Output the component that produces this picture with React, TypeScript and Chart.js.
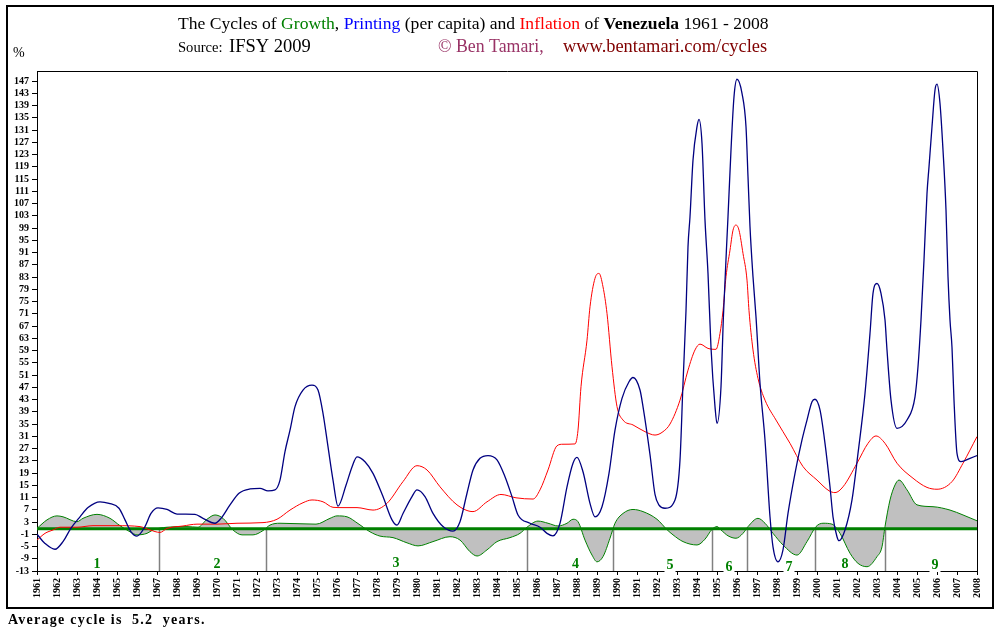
import { useEffect, useRef } from "react";
import { Chart, registerables } from "chart.js";

Chart.register(...registerables);

// ---- axis ticks ----
const yearTicks = [
  1961, 1962, 1963, 1964, 1965, 1966, 1967, 1968, 1969, 1970, 1971, 1972,
  1973, 1974, 1975, 1976, 1977, 1978, 1979, 1980, 1981, 1982, 1983, 1984,
  1985, 1986, 1987, 1988, 1989, 1990, 1991, 1992, 1993, 1994, 1995, 1996,
  1997, 1998, 1999, 2000, 2001, 2002, 2003, 2004, 2005, 2006, 2007, 2008,
];
const percentTicks = [
  -13, -9, -5, -1, 3, 7, 11, 15, 19, 23, 27, 31, 35, 39, 43, 47, 51, 55, 59,
  63, 67, 71, 75, 79, 83, 87, 91, 95, 99, 103, 107, 111, 115, 119, 123, 127,
  131, 135, 139, 143, 147,
];

// ---- Printing (money per capita), % ----
const printingYears = [
  1961.0, 1961.4, 1961.9, 1962.3, 1962.7, 1963.15, 1963.55, 1964.15, 1964.6,
  1965.1, 1965.4, 1965.7, 1966.0, 1966.4, 1966.7, 1967.05, 1967.5, 1968.0,
  1968.9, 1969.3, 1969.9, 1970.2, 1970.65, 1971.1, 1971.65, 1972.15, 1972.55,
  1972.9, 1973.15, 1973.4, 1973.65, 1973.9, 1974.3, 1974.75, 1975.05, 1975.3,
  1975.55, 1975.8, 1976.05, 1976.45, 1976.75, 1977.0, 1977.4, 1977.8, 1978.3,
  1978.75, 1979.0, 1979.3, 1979.75, 1980.0, 1980.4, 1980.8, 1981.3, 1981.8,
  1982.15, 1982.5, 1982.8, 1983.15, 1983.55, 1984.0, 1984.4, 1984.75, 1985.05,
  1985.65, 1986.15, 1986.5, 1986.8, 1987.15, 1987.5, 1987.8, 1988.0, 1988.3,
  1988.65, 1988.9, 1989.25, 1989.6, 1989.9, 1990.25, 1990.6, 1990.8, 1991.15,
  1991.3, 1991.65, 1991.9, 1992.1, 1992.4, 1992.9, 1993.15, 1993.3, 1993.45,
  1993.55, 1993.65, 1993.8, 1994.0, 1994.1, 1994.25, 1994.4, 1994.55, 1994.7,
  1994.9, 1995.0, 1995.2, 1995.32, 1995.55, 1995.7, 1995.85, 1996.0, 1996.25,
  1996.45, 1996.55, 1996.65, 1996.8, 1996.95, 1997.15, 1997.4, 1997.65, 1997.8,
  1998.05, 1998.3, 1998.55, 1998.9, 1999.25, 1999.5, 1999.75, 1999.9, 2000.15,
  2000.4, 2000.65, 2000.8, 2001.0, 2001.1, 2001.4, 2001.75, 2002.05, 2002.4,
  2002.65, 2002.8, 2003.0, 2003.2, 2003.4, 2003.5, 2003.7, 2004.0, 2004.5,
  2004.9, 2005.05, 2005.2, 2005.35, 2005.5, 2005.6, 2005.75, 2005.9, 2006.0,
  2006.15, 2006.3, 2006.45, 2006.55, 2006.65, 2006.75, 2006.85, 2007.0, 2007.2,
  2007.65, 2008.0,
];
const printingValues = [
  -1, -4, -5.9, -3.4, 1, 4.7, 7.7, 9.6, 9.1,
  7.5, 3.7, -0.2, -1.6, 1.5, 5.8, 7.6, 7.1, 5.6,
  5.5, 4.2, 2.6, 4.2, 8.6, 12.4, 13.8, 14, 13.2,
  13.5, 16.7, 26, 33, 40.7, 46.1, 47.7, 46.1, 38.5,
  27.6, 16.7, 8.2, 15, 21, 24.3, 22.7, 18.9, 11.3,
  3.7, 2, 5.8, 11.3, 13.5, 11.3, 5.8, 1.5, 0,
  3.1, 12.4, 20, 23.8, 24.7, 23.3, 17.8, 11.3, 5.3,
  2.6, 1.3, -0.7, -1.5, 2.6, 14.5, 22.2, 24.1, 19.4,
  9.1, 4.7, 8, 18.9, 33, 43.4, 48.8, 50.2, 46.1,
  40.7, 25, 12, 8.5, 7.5, 10.2, 23.2, 48.3, 72,
  92.9, 102.7, 121.2, 132.1, 134.5, 126.7, 101.6, 84.2, 60,
  40.7, 35.2, 47.2, 70, 102.7, 124.5, 141.9, 147.6, 143,
  132.1, 115.8, 99.4, 83.1, 70, 48.3, 29.8, 4.7, -5.1,
  -10, -6.1, 5.8, 18.9, 29.8, 36.3, 42.3, 43.1, 39.6,
  28.7, 14.5, 4.7, -1.8, -3.1, 0.4, 10.2, 25.4, 45,
  64.6, 77.7, 80.9, 77.7, 69, 59.2, 42.8, 33.6, 36.3,
  43.9, 53.7, 69, 88.6, 110.3, 119, 132.1, 144.1, 146,
  139.7, 124.5, 104.9, 83.1, 69, 60, 42.8, 25.4, 22.7,
  23.8, 24.7,
];

// ---- Inflation, % ----
const inflationYears = [
  1961.0, 1961.4, 1961.8, 1962.15, 1963.0, 1963.8, 1965.0, 1966.15, 1966.65,
  1967.15, 1967.5, 1968.3, 1969.0, 1970.0, 1971.0, 1972.3, 1973.0, 1973.65,
  1974.3, 1974.75, 1975.3, 1975.8, 1976.3, 1977.0, 1977.8, 1978.5, 1979.3,
  1980.0, 1980.5, 1981.15, 1982.0, 1982.8, 1983.5, 1984.2, 1984.95, 1985.8,
  1986.15, 1986.55, 1987.0, 1987.3, 1987.9, 1988.05, 1988.2, 1988.5, 1988.65,
  1988.9, 1989.1, 1989.3, 1989.5, 1989.75, 1990.0, 1990.3, 1990.8, 1991.4,
  1991.9, 1992.3, 1992.65, 1993.15, 1993.55, 1993.9, 1994.15, 1994.55, 1994.95,
  1995.15, 1995.3, 1995.45, 1995.65, 1995.8, 1995.95, 1996.1, 1996.3, 1996.5,
  1996.6, 1996.8, 1997.05, 1997.4, 1997.95, 1998.65, 1999.3, 2000.0, 2000.6,
  2000.9, 2001.3, 2002.0, 2002.55, 2002.95, 2003.4, 2004.0, 2004.8, 2005.5,
  2006.0, 2006.75, 2007.3, 2008.0,
];
const inflationValues = [
  -2.9, -0.7, 0.4, 1.3, 1.3, 1.8, 1.8, 1.5, 0.4,
  -0.4, 0.9, 1.7, 2.3, 2.3, 2.6, 2.8, 3.9, 6.9,
  9.3, 10.2, 9.6, 7.8, 7.7, 7.7, 6.9, 9.1, 16.2,
  21.4, 20, 14.5, 8.6, 6.4, 9.6, 12, 10.9, 10.5,
  13.5, 20, 27.9, 28.4, 28.5, 33, 47.2, 62.4, 73.3,
  82.6, 84.2, 79.8, 71.1, 53.7, 40.7, 36.3, 34.7, 32.5,
  31.4, 32.5, 35, 42.8, 52.6, 59.2, 61.1, 59.7, 59.4,
  64.6, 72, 83.1, 91.8, 98.3, 100, 98.3, 90.7, 82,
  72, 59.2, 49.9, 42.8, 36.3, 28.7, 21.1, 16.7, 13.2,
  12.6, 14.5, 22.2, 28.7, 31.1, 28.7, 22.2, 17.3, 14.3,
  13.7, 16.2, 22.2, 30.9,
];

// ---- Growth, % ----
const growthYears = [
  1961.0, 1961.5, 1962.0, 1962.3, 1963.0, 1963.3, 1964.0, 1964.65, 1965.15,
  1965.65, 1966.0, 1966.5, 1966.8, 1967.5, 1968.5, 1969.05, 1969.5, 1969.9,
  1970.3, 1970.8, 1971.25, 1971.8, 1972.3, 1972.65, 1973.15, 1974.95, 1975.65,
  1976.0, 1976.5, 1977.05, 1977.65, 1978.15, 1978.8, 1979.5, 1980.05, 1980.8,
  1981.65, 1982.15, 1982.65, 1983.0, 1983.5, 1984.0, 1984.65, 1985.15, 1985.5,
  1986.05, 1986.55, 1987.05, 1987.5, 1987.8, 1988.05, 1988.4, 1988.75, 1989.0,
  1989.3, 1989.65, 1989.9, 1990.3, 1990.8, 1991.3, 1992.0, 1992.5, 1992.8,
  1993.3, 1994.0, 1994.4, 1994.75, 1995.0, 1995.2, 1995.55, 1995.95, 1996.3,
  1996.55, 1997.05, 1997.4, 1997.8, 1998.3, 1999.0, 1999.5, 1999.95, 2000.3,
  2000.75, 2001.15, 2001.65, 2002.05, 2002.5, 2003.0, 2003.25, 2003.4, 2003.65,
  2003.9, 2004.1, 2004.5, 2005.0, 2005.8, 2006.65, 2007.3, 2008.0,
];
const growthValues = [
  0.9, 3.7, 5.0, 4.7, 3.1, 4.2, 5.5, 4.2, 1.8,
  -0.2, -1.2, -0.7, 0.4, 1.3, 1.5, 1.3, 3.9, 5.3,
  4.2, 0.4, -1.2, -1.2, 0.2, 2.0, 2.6, 2.3, 4.2,
  5.0, 4.7, 2.5, -0.2, -1.6, -2.1, -3.8, -4.8, -3.4,
  -1.8, -2.9, -6.7, -8.1, -6.1, -3.4, -2.1, -0.7, 1.3,
  3.3, 2.6, 1.7, 2.6, 3.9, 3.1, -2.9, -7.8, -10,
  -8.3, -2.3, 2.6, 5.8, 7.1, 6.4, 3.9, 0.5, -1.2,
  -3.4, -4.5, -2.6, 0.6, 1.5, 0.4, -1.5, -2.3, -0.7,
  1.5, 4.2, 2.6, -0.7, -4.5, -7.8, -3.4, 1.5, 2.6,
  2.3, -0.7, -7.2, -10.5, -11.6, -8.3, -5.1, 1.5, 10.2,
  15.1, 16.7, 13.5, 8.6, 8.0, 6.9, 5.3, 3.4,
];
const growthBaseline = 0.8;

// ---- growth cycles ----
const cycleBounds = [1967.1, 1972.45, 1985.5, 1989.8, 1994.75, 1996.5, 1999.9, 2003.4];
const cycleNames = ["1", "2", "3", "4", "5", "6", "7", "8", "9"];
const cycleCentres = [1964.0, 1970.0, 1978.95, 1987.93, 1992.65, 1995.6, 1998.6, 2001.4, 2005.9];
const averageCycle = "5.2";

const SERIF = "'Liberation Serif', 'Times New Roman', serif";

const toPoints = (xs: number[], ys: number[]) => xs.map((x, i) => ({ x, y: ys[i] }));

const titleParts: [string, string, boolean][] = [
  ["The Cycles of ", "#000000", false],
  ["Growth", "#008000", false],
  [", ", "#000000", false],
  ["Printing", "#0000ff", false],
  [" (per capita) and ", "#000000", false],
  ["Inflation", "#ff0000", false],
  [" of ", "#000000", false],
  ["Venezuela", "#000000", true],
  [" 1961 - 2008", "#000000", false],
];

const decorPlugin = {
  id: "decor",
  beforeDatasetsDraw(chart: any) {
    const { ctx, chartArea, scales } = chart;
    const xs = scales.x;
    const ys = scales.y;
    ctx.save();
    ctx.strokeStyle = "#808080";
    ctx.lineWidth = 1.5;
    const yTop = ys.getPixelForValue(growthBaseline);
    cycleBounds.forEach((yr) => {
      const px = Math.round(xs.getPixelForValue(yr)) + 0.5;
      ctx.beginPath();
      ctx.moveTo(px, yTop);
      ctx.lineTo(px, chartArea.bottom);
      ctx.stroke();
    });
    ctx.restore();
  },
  afterDraw(chart: any) {
    const { ctx, chartArea, scales } = chart;
    const xs = scales.x;
    ctx.save();

    // plot frame (top and right sides)
    ctx.strokeStyle = "#000";
    ctx.lineWidth = 1;
    ctx.beginPath();
    ctx.moveTo(chartArea.left, chartArea.top + 0.5);
    ctx.lineTo(chartArea.right + 0.5, chartArea.top + 0.5);
    ctx.lineTo(chartArea.right + 0.5, chartArea.bottom);
    ctx.stroke();

    // outer border
    ctx.lineWidth = 2;
    ctx.strokeRect(7, 6, 986, 602);

    // cycle numbers
    const labelBase = [568, 568, 567, 568, 569, 571, 571, 568, 569];
    ctx.font = `bold 14px ${SERIF}`;
    ctx.textAlign = "center";
    ctx.textBaseline = "alphabetic";
    cycleNames.forEach((name, i) => {
      const px = xs.getPixelForValue(cycleCentres[i]);
      const w = ctx.measureText(name).width;
      ctx.fillStyle = "#fff";
      ctx.fillRect(px - w / 2 - 2, labelBase[i] - 10, w + 4, 13);
      ctx.fillStyle = "#008000";
      ctx.fillText(name, px, labelBase[i]);
    });

    // title line
    ctx.textAlign = "left";
    let x = 178;
    titleParts.forEach(([t, c, b]) => {
      ctx.font = `${b ? "bold " : ""}17.6px ${SERIF}`;
      ctx.fillStyle = c;
      ctx.fillText(t, x, 29);
      x += ctx.measureText(t).width;
    });

    // source line
    ctx.fillStyle = "#000";
    ctx.font = `14.6px ${SERIF}`;
    ctx.fillText("Source:", 178, 52);
    ctx.font = `18.5px ${SERIF}`;
    ctx.fillText("IFSY 2009", 229, 52);
    ctx.fillStyle = "#993366";
    ctx.font = `17.8px ${SERIF}`;
    ctx.fillText("\u00a9 Ben Tamari,", 438, 52);
    ctx.fillStyle = "#800000";
    ctx.font = `18.4px ${SERIF}`;
    ctx.fillText("www.bentamari.com/cycles", 563, 52);

    // unit
    ctx.fillStyle = "#000";
    ctx.font = `14px ${SERIF}`;
    ctx.fillText("%", 13, 57);

    // footnote
    ctx.font = `bold 14px ${SERIF}`;
    (ctx as any).letterSpacing = "1.25px";
    ctx.fillText(`Average cycle is  ${averageCycle}  years.`, 8, 624);
    ctx.restore();
  },
};

export default function App() {
  const ref = useRef<HTMLCanvasElement>(null);

  useEffect(() => {
    const tickFont = { family: SERIF, size: 10, weight: "bold" as const };
    const chart = new Chart(ref.current as HTMLCanvasElement, {
      type: "line",
      data: {
        datasets: [
          {
            label: "Growth",
            data: toPoints(growthYears, growthValues),
            borderColor: "#008000",
            borderWidth: 1,
            backgroundColor: "#c0c0c0",
            fill: { value: growthBaseline },
            pointRadius: 0,
            cubicInterpolationMode: "monotone",
            order: 4,
          },
          {
            label: "Baseline",
            data: [
              { x: yearTicks[0], y: growthBaseline },
              { x: yearTicks[yearTicks.length - 1], y: growthBaseline },
            ],
            borderColor: "#008000",
            borderWidth: 3,
            pointRadius: 0,
            fill: false,
            order: 3,
          },
          {
            label: "Inflation",
            data: toPoints(inflationYears, inflationValues),
            borderColor: "#ff0000",
            borderWidth: 1,
            pointRadius: 0,
            fill: false,
            cubicInterpolationMode: "monotone",
            order: 2,
          },
          {
            label: "Printing",
            data: toPoints(printingYears, printingValues),
            borderColor: "#000080",
            borderWidth: 1.3,
            pointRadius: 0,
            fill: false,
            cubicInterpolationMode: "monotone",
            order: 1,
          },
        ],
      },
      options: {
        responsive: false,
        animation: false,
        devicePixelRatio: 1,
        layout: { padding: { left: 0, top: 71, right: 23, bottom: 0 } },
        plugins: {
          legend: { display: false },
          title: { display: false },
          tooltip: { enabled: false },
        },
        scales: {
          x: {
            type: "linear",
            min: yearTicks[0],
            max: yearTicks[yearTicks.length - 1],
            afterBuildTicks: (s: any) => {
              s.ticks = yearTicks.map((v) => ({ value: v }));
            },
            afterFit: (s: any) => {
              s.height = 62;
            },
            ticks: {
              autoSkip: false,
              maxRotation: 90,
              minRotation: 90,
              padding: 3,
              color: "#000",
              font: tickFont,
              callback: (v: any) => String(v),
            },
            grid: { drawOnChartArea: false, tickLength: 4, color: "#000" },
            border: { color: "#000", width: 1 },
          },
          y: {
            type: "linear",
            min: -13,
            max: 150.3,
            afterBuildTicks: (s: any) => {
              s.ticks = percentTicks.map((v) => ({ value: v }));
            },
            afterFit: (s: any) => {
              s.width = 37;
            },
            ticks: {
              autoSkip: false,
              padding: 3,
              color: "#000",
              font: tickFont,
              callback: (v: any) => String(v),
            },
            grid: { drawOnChartArea: false, tickLength: 5, color: "#000" },
            border: { color: "#000", width: 1 },
          },
        },
      },
      plugins: [decorPlugin],
    });
    return () => chart.destroy();
  }, []);

  return (
    <div style={{ position: "absolute", left: 0, top: 0, width: 1000, height: 633, background: "#fff" }}>
      <canvas ref={ref} width={1000} height={633} style={{ display: "block", width: 1000, height: 633 }} />
    </div>
  );
}
